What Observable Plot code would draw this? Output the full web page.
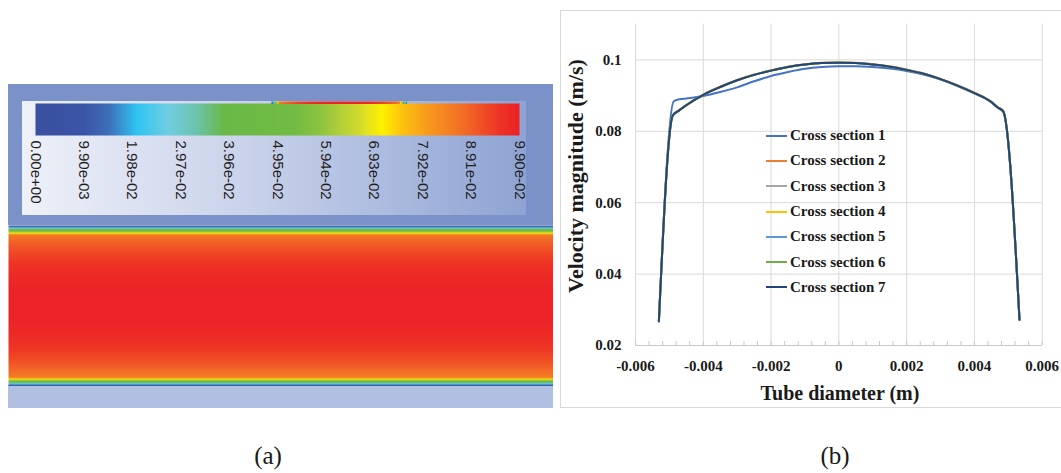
<!DOCTYPE html>
<html>
<head>
<meta charset="utf-8">
<script src="https://cdn.jsdelivr.net/npm/d3@7"></script>
<script src="https://cdn.jsdelivr.net/npm/@observablehq/plot@0.6"></script>
<style>
  html, body { margin: 0; padding: 0; background: #fff; }
  #fig { position: relative; width: 1061px; height: 473px; overflow: hidden; background: #fff; }
  .abs { position: absolute; }
  .serif { font-family: "Liberation Serif", "Times New Roman", serif; color: #1a1a1a; }
  .caption { font-size: 25px; transform: translate(-50%, -50%); white-space: nowrap; }
  .title { font-weight: bold; white-space: nowrap; transform: translate(-50%, -50%); }
  .legend-row { position: absolute; display: flex; align-items: center; height: 25.3px; white-space: nowrap;
                font: bold 15px "Liberation Serif", "Times New Roman", serif; color: #1a1a1a; }
  .legend-row span.sw { display: inline-block; width: 21px; height: 2px; margin-right: 3.5px; }
</style>
</head>
<body>
<div id="fig"></div>
<script>
// ---------- contour legend (panel a) ----------
const contourMax = 0.099;
const colorbarTicks = [0, 0.0099, 0.0198, 0.0297, 0.0396, 0.0495, 0.0594, 0.0693, 0.0792, 0.0891, 0.099];
const colorbarLabels = ["0.00e+00", "9.90e-03", "1.98e-02", "2.97e-02", "3.96e-02", "4.95e-02",
                        "5.94e-02", "6.93e-02", "7.92e-02", "8.91e-02", "9.90e-02"];
// rainbow palette stops, as fractions of the contour maximum
const paletteStops = [0, 0.10, 0.15, 0.21, 0.275, 0.33, 0.39, 0.53, 0.59, 0.665, 0.716, 0.76, 0.81, 0.885, 0.96, 1];
const paletteColors = ["#3a4f9f", "#3b55a6", "#3e6db7", "#2fc5f3", "#70cde0", "#6cc3b0", "#6ab946", "#70bb44",
                       "#8ec440", "#cfd92e", "#fff100", "#fcc010", "#f89a1c", "#f26c25", "#ee3325", "#ec2227"];

// ---------- velocity profiles (panel b) ----------
const sectionNames = ["Cross section 1", "Cross section 2", "Cross section 3", "Cross section 4",
                      "Cross section 5", "Cross section 6", "Cross section 7"];
const sectionColors = ["#4472c4", "#ed7d31", "#a5a5a5", "#ffc000", "#5b9bd5", "#70ad47", "#264478"];

const positionSection1 = [-0.00531, -0.00487, -0.00470, -0.0045, -0.0040, -0.0035, -0.0030, -0.0025, -0.0020,
                          -0.0015, -0.0010, -0.0005, 0, 0.0005, 0.0010, 0.0015, 0.0020, 0.0025, 0.0030, 0.0035,
                          0.0040, 0.0045, 0.0047, 0.00485, 0.00533];
const positionDownstream = [-0.00531, -0.00490, -0.00472, -0.0045, -0.0040, -0.0035, -0.0030, -0.0025, -0.0020,
                            -0.0015, -0.0010, -0.0005, 0, 0.0005, 0.0010, 0.0015, 0.0020, 0.0025, 0.0030, 0.0035,
                            0.0040, 0.0045, 0.0047, 0.00485, 0.00533];

const velocity1 = [0.0267, 0.0884, 0.0890, 0.0892, 0.0899, 0.0910, 0.0923, 0.0940, 0.0955, 0.0966, 0.0975, 0.0980,
                   0.0982, 0.0982, 0.0980, 0.0976, 0.0969, 0.0959, 0.0945, 0.0927, 0.0906, 0.0881, 0.0865, 0.0855, 0.0272];
const velocity2 = [0.0268, 0.0845, 0.0859, 0.0874, 0.0903, 0.0925, 0.0944, 0.0959, 0.0971, 0.0981, 0.0988, 0.0992,
                   0.0993, 0.0992, 0.0988, 0.0982, 0.0973, 0.0962, 0.0947, 0.0929, 0.0908, 0.0883, 0.0867, 0.0857, 0.0273];
const velocity3 = [0.0268, 0.0844, 0.0858, 0.0873, 0.0902, 0.0924, 0.0943, 0.0958, 0.0970, 0.0980, 0.0987, 0.0991,
                   0.0992, 0.0991, 0.0988, 0.0981, 0.0972, 0.0961, 0.0946, 0.0928, 0.0907, 0.0882, 0.0866, 0.0856, 0.0272];
const velocity4 = [0.0268, 0.0844, 0.0858, 0.0873, 0.0902, 0.0924, 0.0943, 0.0958, 0.0970, 0.0980, 0.0987, 0.0991,
                   0.0992, 0.0991, 0.0987, 0.0981, 0.0972, 0.0961, 0.0946, 0.0928, 0.0907, 0.0882, 0.0866, 0.0856, 0.0272];
const velocity5 = [0.0269, 0.0845, 0.0858, 0.0873, 0.0902, 0.0924, 0.0943, 0.0958, 0.0970, 0.0980, 0.0987, 0.0991,
                   0.0992, 0.0991, 0.0987, 0.0981, 0.0972, 0.0961, 0.0946, 0.0928, 0.0907, 0.0882, 0.0866, 0.0856, 0.0273];
const velocity6 = [0.0268, 0.0844, 0.0858, 0.0873, 0.0902, 0.0924, 0.0943, 0.0958, 0.0970, 0.0980, 0.0987, 0.0991,
                   0.0992, 0.0991, 0.0987, 0.0981, 0.0972, 0.0961, 0.0946, 0.0928, 0.0907, 0.0882, 0.0866, 0.0856, 0.0272];
const velocity7 = [0.0268, 0.0844, 0.0858, 0.0873, 0.0902, 0.0924, 0.0943, 0.0958, 0.0970, 0.0980, 0.0987, 0.0991,
                   0.0992, 0.0991, 0.0987, 0.0981, 0.0972, 0.0961, 0.0946, 0.0928, 0.0907, 0.0882, 0.0866, 0.0856, 0.0272];

const xTicks = [-0.006, -0.004, -0.002, 0, 0.002, 0.004, 0.006];
const xTickLabels = ["-0.006", "-0.004", "-0.002", "0", "0.002", "0.004", "0.006"];
const xMinorTicks = d3.range(-0.006, 0.00601, 0.0004);
const yTicks = [0.02, 0.04, 0.06, 0.08, 0.1];
const yTickLabels = ["0.02", "0.04", "0.06", "0.08", "0.1"];

// tube wall (no-slip) radius used to close the contour profile
const wallRadius = 0.0055;

// ---------- helpers ----------
const fig = document.getElementById("fig");
function place(el, left, top) {
  el.style.position = "absolute";
  el.style.left = left + "px";
  el.style.top = top + "px";
  fig.appendChild(el);
  return el;
}
function div(cls, left, top, css = {}, text = "") {
  const d = document.createElement("div");
  d.className = cls;
  Object.assign(d.style, css);
  d.textContent = text;
  return place(d, left, top);
}

const colorScale = {
  type: "linear",
  domain: paletteStops.map((t) => t * contourMax),
  range: paletteColors,
  interpolate: "rgb",
  clamp: true
};

// contour profile across the tube, closed with zero velocity at the walls
const tubePosition = [-wallRadius, ...positionDownstream, wallRadius];
const tubeVelocity = [0, ...velocity4, 0];
const tubeProfile = d3.scaleLinear().domain(tubePosition).range(tubeVelocity).clamp(true);

// ---------- panel (a) ----------
div("abs", 8, 84, { width: "545px", height: "141px", background: "#7b92c8" });
div("abs", 8, 385, { width: "545px", height: "23px", background: "#b1c0e2" });
div("abs", 21.5, 101, {
  width: "504px", height: "114px",
  background: "linear-gradient(to right, #eef1f8 0%, #c9d2ea 45%, #8ea3d3 100%)"
});

// colour bar with rotated tick labels
const colorbar = Plot.plot({
  width: 504, height: 112,
  marginLeft: 10, marginRight: 10, marginTop: 0, marginBottom: 80,
  x: { domain: [0, contourMax] },
  y: { domain: [0, 1], axis: null },
  color: colorScale,
  style: { background: "transparent", overflow: "visible" },
  marks: [
    Plot.raster({ x1: 0, x2: contourMax, y1: 0, y2: 1, fill: (x) => x }),
    Plot.axisX(colorbarTicks, {
      tickSize: 0, tickPadding: 5, tickRotate: 90, label: null,
      tickFormat: (d, i) => colorbarLabels[i],
      fontSize: 15, fontFamily: "Liberation Sans, Arial, sans-serif", fill: "#1e1e1e"
    })
  ]
});
place(colorbar, 25, 103.3);

// thin profile strip along the top edge of the legend box
const strip = Plot.plot({
  width: 136, height: 2.5, margin: 0,
  x: { domain: [-wallRadius, wallRadius], axis: null },
  y: { domain: [0, 1], axis: null },
  color: colorScale,
  style: { background: "transparent" },
  marks: [Plot.raster({ x1: -wallRadius, x2: wallRadius, y1: 0, y2: 1, fill: (x) => tubeProfile(x) })]
});
place(strip, 271, 101);

// velocity contour inside the tube
const tube = Plot.plot({
  width: 545, height: 161, margin: 0,
  x: { domain: [0, 1], axis: null },
  y: { domain: [-wallRadius, wallRadius], axis: null },
  color: colorScale,
  style: { background: "transparent" },
  marks: [Plot.raster({ x1: 0, x2: 1, y1: -wallRadius, y2: wallRadius, fill: (x, y) => tubeProfile(y) })]
});
place(tube, 8, 224.5);

// ---------- panel (b) ----------
div("abs", 559.5, 9.5, { width: "560px", height: "398px", border: "1px solid #d9d9d9", boxSizing: "border-box" });

const sections = [
  { pos: positionSection1, vel: velocity1 },
  { pos: positionDownstream, vel: velocity2 },
  { pos: positionDownstream, vel: velocity3 },
  { pos: positionDownstream, vel: velocity4 },
  { pos: positionDownstream, vel: velocity5 },
  { pos: positionDownstream, vel: velocity6 },
  { pos: positionDownstream, vel: velocity7 }
];

const lineMarks = sections.map((s, k) =>
  Plot.line(s.pos.map((p, i) => ({ x: p, v: s.vel[i] })), {
    x: "x", y: "v", stroke: sectionColors[k], strokeWidth: 2, curve: "monotone-x"
  })
);

const chart = Plot.plot({
  width: 501, height: 398,
  marginLeft: 75, marginRight: 19.3, marginTop: 13.7, marginBottom: 63,
  x: { domain: [-0.006, 0.006] },
  y: { domain: [0.02, 0.11] },
  style: {
    background: "transparent", overflow: "visible",
    fontFamily: "Liberation Serif, Times New Roman, serif", fontWeight: "bold", fontSize: "15px", color: "#1a1a1a"
  },
  marks: [
    Plot.gridY(yTicks.slice(1), { stroke: "#d9d9d9", strokeOpacity: 1 }),
    Plot.gridX(xTicks, { stroke: "#d9d9d9", strokeOpacity: 1 }),
    Plot.ruleY([0.02], { stroke: "#c8c8c8" }),
    Plot.axisX(xMinorTicks, { tickSize: -4, stroke: "#c8c8c8", tickFormat: () => "", label: null }),
    Plot.axisX(xTicks, { tickSize: 0, tickPadding: 15, label: null, tickFormat: (d, i) => xTickLabels[i] }),
    Plot.axisY(yTicks, { tickSize: 0, tickPadding: 14, label: null, tickFormat: (d, i) => yTickLabels[i] }),
    ...lineMarks
  ]
});
place(chart, 560, 10);

// legend inside the plot area
sectionNames.forEach((name, i) => {
  const row = div("legend-row", 765.5, 123.05 + i * 25.3);
  const sw = document.createElement("span");
  sw.className = "sw";
  sw.style.background = sectionColors[i];
  row.appendChild(sw);
  row.appendChild(document.createTextNode(name));
});

// axis titles
div("serif title", 576, 176, { fontSize: "22px", transform: "translate(-50%, -50%) rotate(-90deg)" },
    "Velocity magnitude (m/s)");
div("serif title", 840, 392.5, { fontSize: "20px" }, "Tube diameter (m)");

// panel captions
div("serif caption", 268, 456, {}, "(a)");
div("serif caption", 835, 456, {}, "(b)");
</script>
</body>
</html>
